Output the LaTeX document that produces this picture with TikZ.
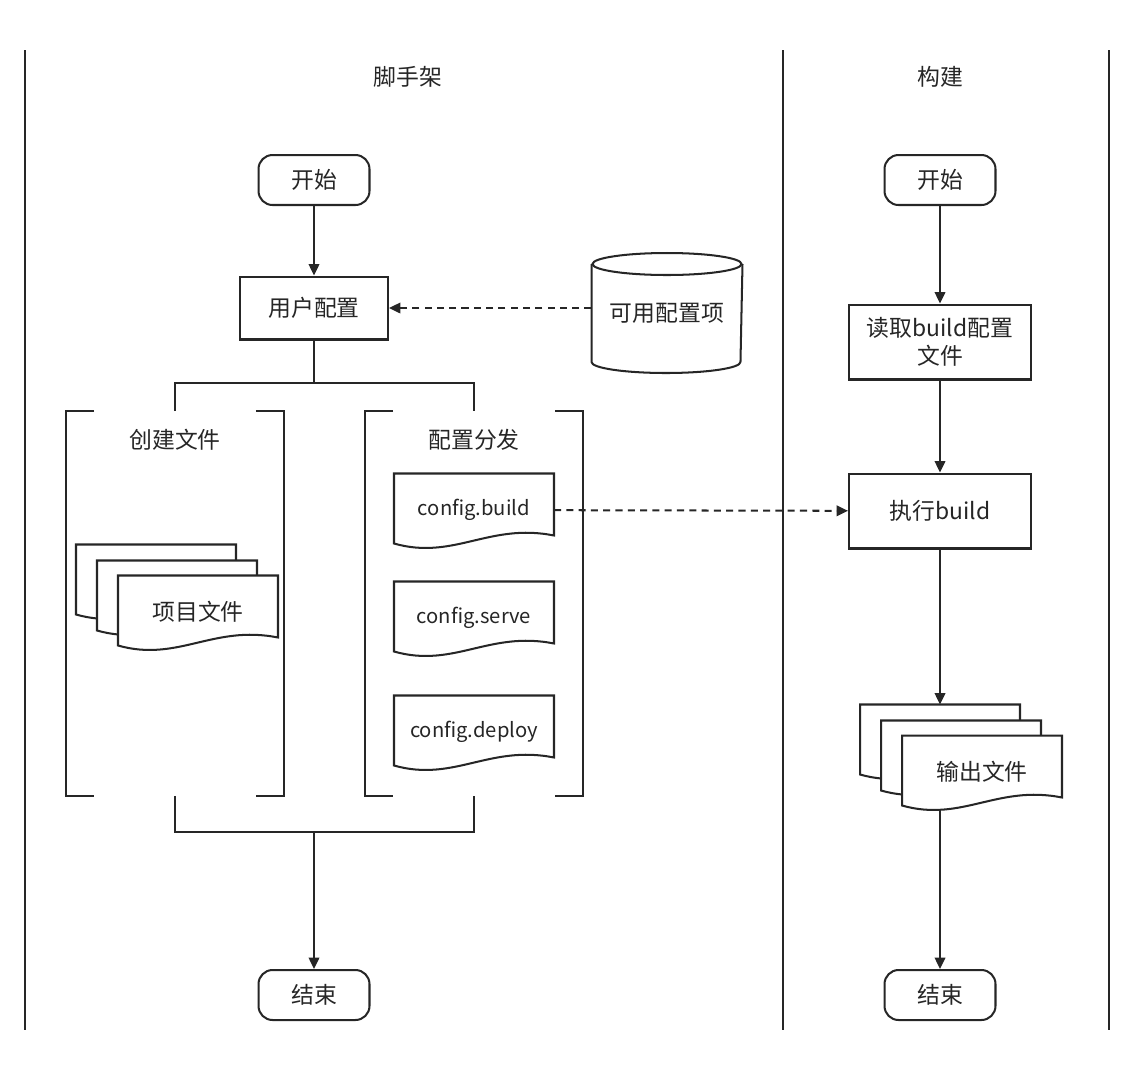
\documentclass[tikz,border=0pt]{standalone}
\usepackage{fontspec}
\setmainfont{Noto Sans CJK SC}
\usetikzlibrary{arrows.meta,backgrounds}

% document shape with a wavy bottom, drawn round a named node
\newcommand{\docpath}[1]{%
  \draw[doc line] (#1.north west) -- (#1.north east) -- ([yshift=0.22cm]#1.south east)
    .. controls +(-1.3cm,0.26cm) and +(1.2cm,-0.34cm) .. ([yshift=0.06cm]#1.south west) -- cycle;}
% square brackets round a group node
\newcommand{\bracketpair}[1]{%
  \draw ([xshift=0.56cm]#1.north west) -- (#1.north west) -- (#1.south west) -- ([xshift=0.56cm]#1.south west);
  \draw ([xshift=-0.56cm]#1.north east) -- (#1.north east) -- (#1.south east) -- ([xshift=-0.56cm]#1.south east);}

\begin{document}
\begin{tikzpicture}
  [x=0.02cm, y=-0.02cm,
   every path/.style={line width=1.15pt, black!85},
   font=\fontsize{13}{16}\selectfont,
   terminal/.style={draw, rounded corners=8pt, minimum width=2.22cm, minimum height=1cm},
   process/.style={draw, minimum width=2.96cm, minimum height=1.26cm},
   store/.style={minimum width=2.98cm, minimum height=1.92cm},
   group/.style={minimum width=4.32cm, minimum height=7.66cm},
   doc/.style={minimum width=3.16cm, minimum height=1.42cm, font=\fontsize{11.5}{14}\selectfont},
   doc line/.style={draw=black!85, line width=1.15pt, fill=white},
   lane/.style={line width=1pt},
   arrow/.style={-{Triangle[length=6.5pt,width=6pt]}},
   dasharrow/.style={arrow, dash pattern=on 4pt off 3pt}]

  \useasboundingbox (0,0) rectangle (1126,1076);

  % swimlanes
  \draw[lane] (25,50) -- (25,1030);
  \draw[lane] (783,50) -- (783,1030);
  \draw[lane] (1109,50) -- (1109,1030);
  \node (scaffold) at (408,77) {脚手架};
  \node (building) at (940,77) {构建};

  % scaffold lane
  \node[terminal] (start1) at (314,180) {开始};
  \node[process] (userconf) at (314,308) {用户配置};
  \node[store] (options) at (667,313) {可用配置项};
  \draw (options.north west) -- (options.south west)
    arc[start angle=180, end angle=360, x radius=1.49cm, y radius=0.22cm]
    -- (options.north east);
  \draw (options.north) ellipse[x radius=1.49cm, y radius=0.22cm];

  \node[group] (create) at (175,603.5) {};
  \node[group] (dispatch) at (474,603.5) {};
  \bracketpair{create}
  \bracketpair{dispatch}
  \node (createlbl) at (175,440) {创建文件};
  \node (dispatchlbl) at (474,440) {配置分发};

  \node[doc] (projback) at (156,581) {};
  \node[doc] (projmid) at (177,597) {};
  \node[doc, font=\fontsize{13}{16}\selectfont] (proj) at (198,612) {项目文件};

  \node[doc] (cfgbuild) at (474,510) {config.build};
  \node[doc] (cfgserve) at (474,618) {config.serve};
  \node[doc] (cfgdeploy) at (474,732) {config.deploy};

  \node[terminal] (end1) at (314,995) {结束};

  % build lane
  \node[terminal] (start2) at (940,180) {开始};
  \node[process, minimum width=3.64cm, minimum height=1.5cm, align=center] (readconf) at (940,342) {读取build配置\\文件};
  \node[process, minimum width=3.64cm, minimum height=1.5cm] (runbuild) at (940,511) {执行build};
  \node[doc] (outback) at (940,741) {};
  \node[doc] (outmid) at (961,757) {};
  \node[doc, font=\fontsize{13}{16}\selectfont] (out) at (982,772) {输出文件};
  \node[terminal] (end2) at (940,995) {结束};

  \begin{pgfonlayer}{background}
    \docpath{projback}
    \docpath{projmid}
    \docpath{proj}
    \docpath{cfgbuild}
    \docpath{cfgserve}
    \docpath{cfgdeploy}
    \docpath{outback}
    \docpath{outmid}
    \docpath{out}
  \end{pgfonlayer}

  % connectors
  \coordinate (split) at (314,383);
  \coordinate (merge) at (314,832);
  \draw[arrow] (start1) -- (userconf);
  \draw[dasharrow] (options.west |- userconf) -- (userconf.east);
  \draw (userconf) -- (split);
  \draw (create.north) |- (split) -| (dispatch.north);
  \draw (create.south) |- (merge) -| (dispatch.south);
  \draw[arrow] (merge) -- (end1);

  \draw[arrow] (start2) -- (readconf);
  \draw[arrow] (readconf) -- (runbuild);
  \draw[dasharrow] (cfgbuild) -- (runbuild);
  \draw[arrow] (runbuild) -- (outback);
  \draw[arrow] (out.south -| end2) -- (end2);

\end{tikzpicture}
\end{document}
